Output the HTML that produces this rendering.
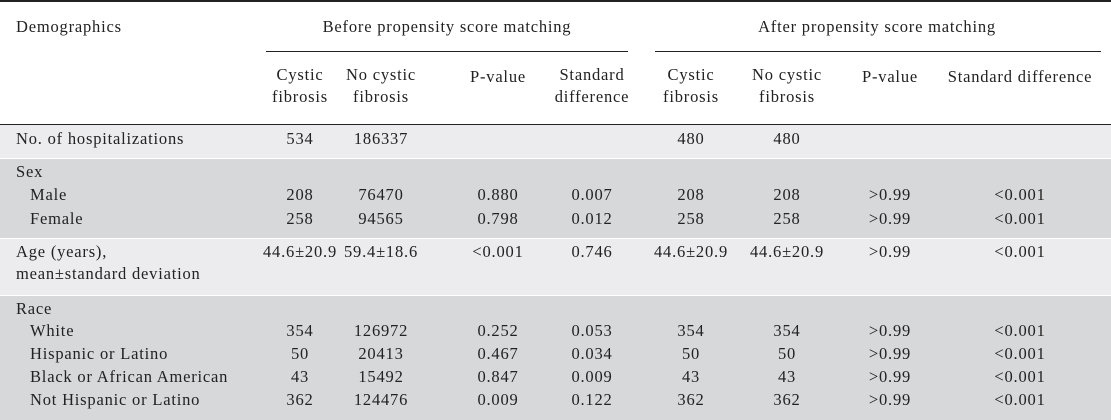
<!DOCTYPE html>
<html><head><meta charset="utf-8"><style>
body{margin:0;width:1111px;height:420px;overflow:hidden;background:#fff;font-family:"Liberation Serif",serif;font-size:16.5px;letter-spacing:0.8px;color:#222;position:relative}
.b{position:absolute;left:0;width:1111px}
.t{position:absolute;white-space:nowrap;line-height:22px}
.c{transform:translateX(-50%);text-align:center}
.ln{position:absolute;height:1px;background:#222}
</style></head><body>
<div class="ln" style="left:0;top:0;width:1111px;height:2px"></div>
<div class="ln" style="left:266px;top:51px;width:362px"></div>
<div class="ln" style="left:655px;top:51px;width:446px"></div>
<div class="ln" style="left:0;top:124px;width:1111px"></div>
<div class="b" style="top:125px;height:33px;background:#ececee"></div>
<div class="b" style="top:159px;height:79px;background:#d7d8da"></div>
<div class="b" style="top:239px;height:56px;background:#ececee"></div>
<div class="b" style="top:296px;height:124px;background:#d7d8da"></div>
<div id="root"></div>
<script>
const rows=[
 ["No. of hospitalizations",0,139,["534","186337","","","480","480","",""]],
 ["Sex",0,172,["","","","","","","",""]],
 ["Male",1,195,["208","76470","0.880","0.007","208","208",">0.99","<0.001"]],
 ["Female",1,219,["258","94565","0.798","0.012","258","258",">0.99","<0.001"]],
 ["Age (years),",0,252,["44.6±20.9","59.4±18.6","<0.001","0.746","44.6±20.9","44.6±20.9",">0.99","<0.001"]],
 ["mean±standard deviation",0,274,["","","","","","","",""]],
 ["Race",0,309,["","","","","","","",""]],
 ["White",1,331,["354","126972","0.252","0.053","354","354",">0.99","<0.001"]],
 ["Hispanic or Latino",1,354,["50","20413","0.467","0.034","50","50",">0.99","<0.001"]],
 ["Black or African American",1,377,["43","15492","0.847","0.009","43","43",">0.99","<0.001"]],
 ["Not Hispanic or Latino",1,400,["362","124476","0.009","0.122","362","362",">0.99","<0.001"]]
];
const cx=[300,381,498,592,691,787,890,1020];
const root=document.getElementById('root');
function add(txt,x,y,center,name){const d=document.createElement('div');d.className='t'+(center?' c':'');d.style.left=x+'px';d.style.top=(y-11)+'px';d.innerHTML=txt;


root.appendChild(d);}
add("Demographics",16,27,false,"demographics-header");
add("Before propensity score matching",447,27,true,"before-header");
add("After propensity score matching",877,27,true,"after-header");
const hd=["Cystic<br>fibrosis","No cystic<br>fibrosis","P-value","Standard<br>difference","Cystic<br>fibrosis","No cystic<br>fibrosis","P-value","Standard difference"];
hd.forEach((h,i)=>add(h,cx[i],h.includes('<br>')?75:77,true,"column-header"));
rows.forEach(r=>{add(r[0],r[1]?30:16,r[2],false,"row-label");r[3].forEach((v,i)=>{if(v)add(v.replace('<','&lt;').replace('>','&gt;'),cx[i],r[2],true,"cell-value");});});
</script>
</body></html>
